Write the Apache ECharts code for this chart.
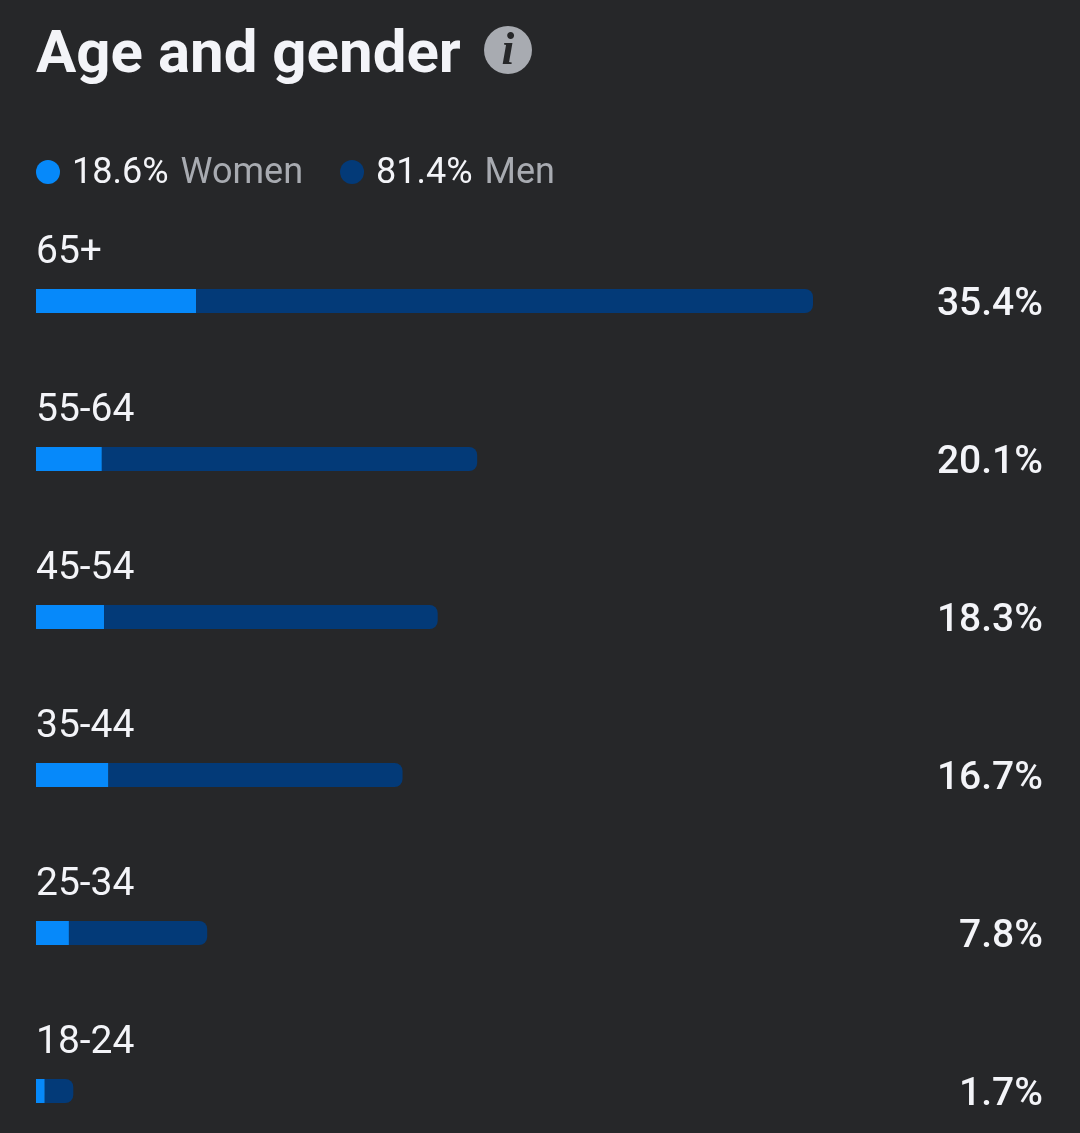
<!DOCTYPE html>
<html>
<head>
<meta charset="utf-8">
<style>
  html, body { margin: 0; padding: 0; background: #262729; }
  #chart { width: 1080px; height: 1133px; }
</style>
<script src="https://cdn.jsdelivr.net/npm/echarts@6/dist/echarts.min.js"></script>
</head>
<body>
<div id="chart"></div>
<script>
var ageGroups = ['65+', '55-64', '45-54', '35-44', '25-34', '18-24'];
var womenValues = [7.3, 3.0, 3.1, 3.3, 1.5, 0.4];
var menValues = [28.1, 17.1, 15.2, 13.4, 6.3, 1.3];
var totalLabels = ['35.4%', '20.1%', '18.3%', '16.7%', '7.8%', '1.7%'];
var legendShares = { Women: '18.6%', Men: '81.4%' };

var chart = echarts.init(document.getElementById('chart'));

chart.setOption({
    animation: false,
    backgroundColor: '#262729',
    textStyle: { fontFamily: 'Roboto' },
    title: {
        text: 'Age and gender',
        left: 36,
        top: 27,
        padding: 0,
        textStyle: { color: '#f3f4f8', fontSize: 60, fontWeight: 'bold', fontFamily: 'Roboto' }
    },
    legend: {
        left: 36,
        top: 156,
        padding: 0,
        itemWidth: 24,
        itemHeight: 24,
        itemGap: 37,
        icon: 'circle',
        selectedMode: false,
        data: ['Women', 'Men'],
        formatter: function (name) {
            return '{v|' + legendShares[name] + '}{n|' + name + '}';
        },
        textStyle: {
            rich: {
                v: { color: '#f3f4f8', fontSize: 36, fontFamily: 'Roboto', padding: [4, 0, 0, 7] },
                n: { color: '#a8abb1', fontSize: 36, fontFamily: 'Roboto', padding: [4, 0, 0, 12] }
            }
        }
    },
    grid: { left: 36, top: 301, width: 878, height: 790, containLabel: false },
    xAxis: { type: 'value', min: 0, max: 40, show: false },
    yAxis: [
        {
            type: 'category',
            data: ageGroups,
            inverse: true,
            boundaryGap: false,
            axisLine: { show: false },
            axisTick: { show: false },
            axisLabel: {
                inside: true,
                margin: 0,
                align: 'left',
                formatter: '{a|{value}}',
                rich: {
                    a: { color: '#f3f4f8', fontSize: 39, fontFamily: 'Roboto', padding: [0, 0, 96, 0] }
                }
            }
        },
        {
            type: 'category',
            data: totalLabels,
            inverse: true,
            position: 'right',
            boundaryGap: false,
            axisLine: { show: false },
            axisTick: { show: false },
            axisLabel: {
                margin: 129,
                align: 'right',
                formatter: '{a|{value}}',
                rich: {
                    a: { color: '#f3f4f8', fontSize: 39, fontWeight: 500, fontFamily: 'Roboto', padding: [8, 0, 0, 0] }
                }
            }
        }
    ],
    series: [
        {
            name: 'Women',
            type: 'bar',
            stack: 'age',
            barWidth: 24,
            silent: true,
            itemStyle: { color: '#0689fa' },
            data: womenValues
        },
        {
            name: 'Men',
            type: 'bar',
            stack: 'age',
            barWidth: 24,
            silent: true,
            itemStyle: { color: '#033a78', borderRadius: [0, 8, 8, 0] },
            data: menValues
        }
    ],
    graphic: [
        {
            type: 'circle',
            shape: { cx: 508, cy: 50, r: 24 },
            style: { fill: '#a8abb1' },
            silent: true
        },
        {
            type: 'text',
            x: 508,
            y: 52,
            silent: true,
            style: {
                text: 'i',
                fill: '#262729',
                font: 'italic bold 46px "Liberation Serif"',
                textAlign: 'center',
                textVerticalAlign: 'middle'
            }
        }
    ]
});
</script>
</body>
</html>
